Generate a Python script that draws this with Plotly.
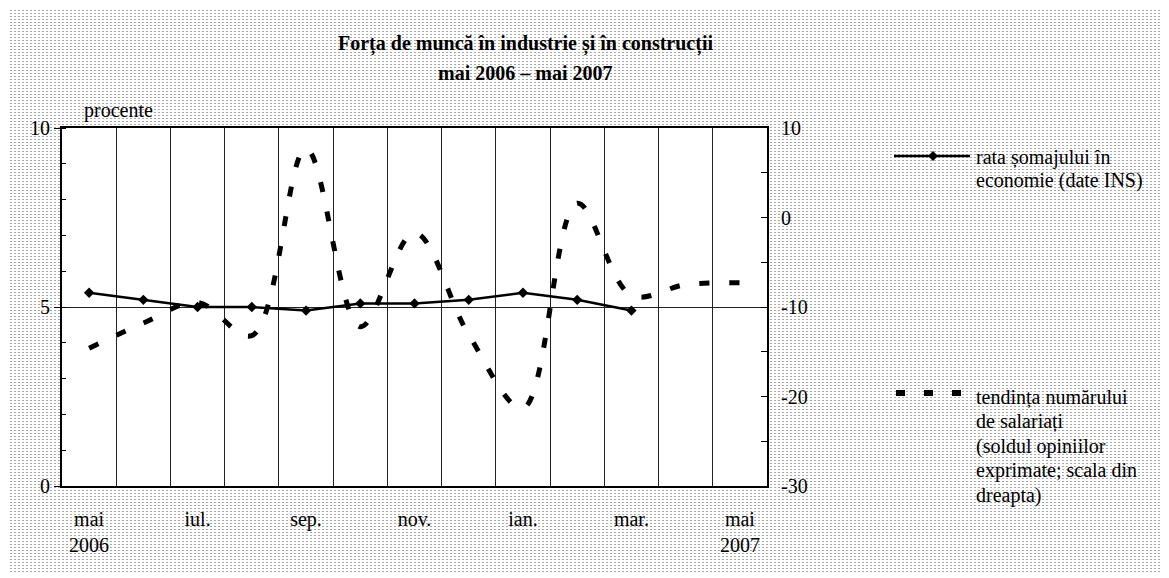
import base64
import plotly.graph_objects as go

# ---------------- data ----------------
months = ["mai 2006", "iun. 2006", "iul. 2006", "aug. 2006", "sep. 2006", "oct. 2006",
          "nov. 2006", "dec. 2006", "ian. 2007", "feb. 2007", "mar. 2007", "apr. 2007", "mai 2007"]
month_ticks = ["mai<br>2006", "", "iul.", "", "sep.", "", "nov.", "", "ian.", "", "mar.", "", "mai<br>2007"]
rata_somaj = [5.4, 5.2, 5.0, 5.0, 4.9, 5.1, 5.1, 5.2, 5.4, 5.2, 4.9, None, None]
tendinta_salariati = [-14.6, -11.8, -9.5, -13.2, 7.7, -12.2, -1.7, -13.1, -21.3, 1.6, -8.7, -7.5, -7.3]
right_tickvals = [-30, -25, -20, -15, -10, -5, 0, 5, 10]
right_ticktext = ["-30", "", "-20", "", "-10", "", "0", "", "10"]

title_lines = ["Forța de muncă în industrie și în construcții", "mai 2006 – mai 2007"]
legend1_lines = ["rata șomajului în", "economie (date INS)"]
legend2_lines = ["tendința numărului", "de salariați", "(soldul opiniilor",
                 "exprimate; scala din", "dreapta)"]

# ---------------- layout geometry (pixels, reference image coordinates) ----------------
W, H = 1169, 578
OFF = 8  # page body margin
L, R, T, B = 62, 767, 128, 486
FONT = "Liberation Serif"


def px(x):
    return (x - L) / (R - L)


def py(y):
    return (B - y) / (B - T)


fig = go.Figure()
fig.add_trace(go.Scatter(
    x=months, y=tendinta_salariati, yaxis="y2", mode="lines",
    line=dict(color="black", width=5, dash="10px,20px", shape="spline", smoothing=1.0),
    showlegend=False, name="tendința numărului de salariați"))
fig.add_trace(go.Scatter(
    x=months, y=rata_somaj, mode="lines+markers",
    line=dict(color="black", width=2.5),
    marker=dict(symbol="diamond", size=8, color="black"),
    showlegend=False, name="rata șomajului în economie"))

# dotted background pattern
pat_x0, pat_y0, pat_x1, pat_y1 = 6, 10, 1163, 573
pw, ph = pat_x1 - pat_x0, pat_y1 - pat_y0
svg = (f"<svg xmlns='http://www.w3.org/2000/svg' width='{pw}' height='{ph}'>"
       "<defs><pattern id='p' width='4' height='3' patternUnits='userSpaceOnUse'>"
       "<rect x='0' y='0' width='2' height='1' fill='#a8a8a8'/></pattern></defs>"
       "<rect width='100%' height='100%' fill='white'/>"
       "<rect width='100%' height='100%' fill='url(#p)'/></svg>")
src = "data:image/svg+xml;base64," + base64.b64encode(svg.encode()).decode()
fig.add_layout_image(dict(source=src, xref="paper", yref="paper",
                          x=px(pat_x0), y=py(pat_y0),
                          sizex=pw / (R - L), sizey=ph / (B - T),
                          sizing="stretch", layer="below", xanchor="left", yanchor="top"))

shapes = [
    # white plot area over the pattern
    dict(type="rect", xref="paper", yref="paper", x0=0, x1=1, y0=0, y1=1,
         fillcolor="white", line=dict(width=0), layer="below"),
    # legend symbols
    dict(type="line", xref="paper", yref="paper", x0=px(894), x1=px(970), y0=py(156), y1=py(156),
         line=dict(color="black", width=2.5)),
    dict(type="path", xref="paper", yref="paper",
         path=f"M {px(928)} {py(156)} L {px(933)} {py(151)} L {px(938)} {py(156)} L {px(933)} {py(161)} Z",
         fillcolor="black", line=dict(color="black", width=0)),
    dict(type="line", xref="paper", yref="paper", x0=px(896), x1=px(963), y0=py(393), y1=py(393),
         line=dict(color="black", width=6, dash="9px,19px")),
]

annotations = []
for i, t in enumerate(title_lines):
    annotations.append(dict(text=f"<b>{t}</b>", xref="paper", yref="paper", x=px(525), y=py(44 + 29 * i),
                            xanchor="center", yanchor="middle", showarrow=False,
                            font=dict(family=FONT, size=20, color="black")))
annotations.append(dict(text="procente", xref="paper", yref="paper", x=px(82), y=py(110),
                        xanchor="left", yanchor="middle", showarrow=False,
                        font=dict(family=FONT, size=20, color="black")))
for i, t in enumerate(legend1_lines):
    annotations.append(dict(text=t, xref="paper", yref="paper", x=px(974), y=py(157 + 23 * i),
                            xanchor="left", yanchor="middle", showarrow=False,
                            font=dict(family=FONT, size=20, color="black")))
for i, t in enumerate(legend2_lines):
    annotations.append(dict(text=t, xref="paper", yref="paper", x=px(974), y=py(397 + 24.5 * i),
                            xanchor="left", yanchor="middle", showarrow=False,
                            font=dict(family=FONT, size=20, color="black")))

fig.update_layout(
    width=W, height=H,
    margin=dict(l=L - OFF, r=W - (R - OFF), t=T - OFF, b=H - (B - OFF), pad=0),
    paper_bgcolor="white", plot_bgcolor="white",
    font=dict(family=FONT, size=20, color="black"),
    showlegend=False,
    shapes=shapes, annotations=annotations,
    xaxis=dict(type="category", categoryorder="array", categoryarray=months,
               range=[-0.5, 12.5], tickmode="array", tickvals=months, ticktext=month_ticks,
               tickson="boundaries", ticks="", showgrid=True, gridcolor="#222222", gridwidth=1,
               showline=True, linecolor="black", linewidth=2, mirror=True,
               ticklabelstandoff=14, tickangle=0),
    yaxis=dict(range=[0, 10], tick0=0, dtick=5, ticks="outside", ticklen=6, tickcolor="black",
               showgrid=True, gridcolor="#222222", gridwidth=1, zeroline=False,
               showline=True, linecolor="black", linewidth=2, ticklabelstandoff=0,
               minor=dict(dtick=1, ticks="inside", ticklen=4, tickcolor="black", showgrid=False)),
    yaxis2=dict(range=[-30, 10], overlaying="y", side="right", tickmode="array",
                tickvals=right_tickvals, ticktext=right_ticktext,
                ticks="inside", ticklen=6, tickcolor="black", showgrid=False, zeroline=False,
                showline=True, linecolor="black", linewidth=2, ticklabelstandoff=8),
)

fig.write_html("out.html")
